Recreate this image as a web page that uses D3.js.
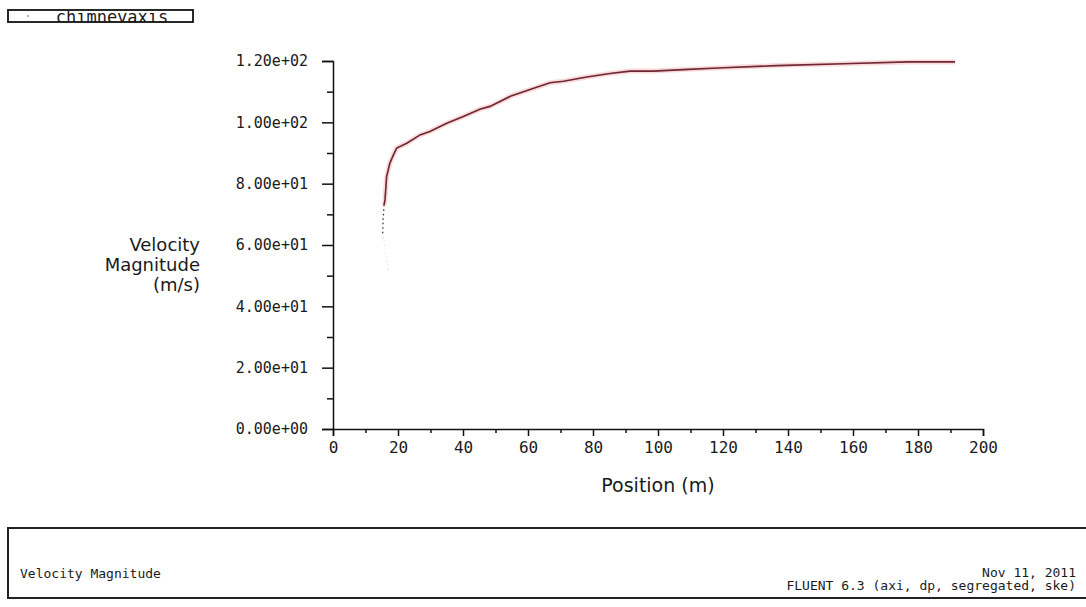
<!DOCTYPE html>
<html>
<head>
<meta charset="utf-8">
<script src="https://cdn.jsdelivr.net/npm/d3@7"></script>
<style>
  body { margin: 0; background: #fff; }
  svg text { fill: #1a1a1a; }
</style>
</head>
<body>
<div id="chart"></div>
<script>
// curve: position (m) vs velocity magnitude (m/s)
const positions = [15.7, 16.0, 16.5, 17.5, 18.6, 19.6, 22.7, 26.8, 29.8, 35.0, 40.1, 45.2, 48.3,
  55.0, 60.6, 66.8, 70.9, 78.1, 85.2, 91.4, 98.6, 107.8, 120.1, 136.5, 159.6, 177.0, 191.4];
const velocities = [73.0, 74.7, 82.3, 86.7, 89.4, 91.6, 93.2, 95.9, 97.0, 99.7, 101.9, 104.3, 105.2,
  108.7, 110.7, 112.9, 113.4, 114.8, 115.9, 116.7, 116.7, 117.2, 117.8, 118.5, 119.2, 119.7, 119.7];
// dotted tail at the bottom of the curve
const tailPositions = [15.3, 15.4, 15.7];
const tailVelocities = [63.8, 68.0, 73.0];
const fadedPositions = [17.0, 15.3];
const fadedVelocities = [52.0, 63.8];

const yTickValues = [0, 20, 40, 60, 80, 100, 120];
const yTickLabels = ["0.00e+00", "2.00e+01", "4.00e+01", "6.00e+01", "8.00e+01", "1.00e+02", "1.20e+02"];
const xTickValues = [0, 20, 40, 60, 80, 100, 120, 140, 160, 180, 200];

const width = 1086, height = 607;

const svg = d3.select("#chart").append("svg")
    .attr("width", width)
    .attr("height", height);

const x = d3.scaleLinear().domain([0, 200]).range([333, 983]);
const y = d3.scaleLinear().domain([0, 120]).range([429, 61]);

// legend box top-left (text is cut by the box like in the original)
svg.append("clipPath").attr("id", "legclip")
  .append("rect").attr("x", 8).attr("y", 11).attr("width", 185).attr("height", 11);
svg.append("text")
    .attr("x", 112).attr("y", 23)
    .attr("text-anchor", "middle")
    .attr("clip-path", "url(#legclip)")
    .attr("font-family", "DejaVu Sans Mono")
    .attr("font-size", "17px")
    .text("chimneyaxis");
svg.append("rect")
    .attr("x", 8).attr("y", 10)
    .attr("width", 185).attr("height", 12)
    .attr("fill", "none")
    .attr("stroke", "#111")
    .attr("stroke-width", 1.8);
svg.append("circle")
    .attr("cx", 28).attr("cy", 16).attr("r", 0.8)
    .attr("fill", "#555");

const labelFont = "DejaVu Sans Mono";

// y axis
const yAxis = svg.append("g")
    .attr("transform", `translate(${x(0)},0)`)
    .call(d3.axisLeft(y)
        .tickValues(yTickValues)
        .tickSize(11)
        .tickPadding(14)
        .tickFormat((d, i) => yTickLabels[i]));
yAxis.select(".domain").attr("stroke", "#111").attr("stroke-width", 1.5);
yAxis.selectAll(".tick line").attr("stroke", "#111").attr("stroke-width", 1.5);
yAxis.selectAll(".tick text")
    .attr("font-family", labelFont)
    .attr("font-size", "15px")
    .attr("fill", "#1a1a1a");

svg.append("g")
    .attr("transform", `translate(${x(0)},0)`)
    .call(d3.axisLeft(y).tickValues(d3.range(10, 120, 20)).tickSize(6).tickFormat(""))
    .call(g => g.select(".domain").remove())
    .selectAll(".tick line").attr("stroke", "#111").attr("stroke-width", 1.5);

// x axis
const xAxis = svg.append("g")
    .attr("transform", `translate(0,${y(0)})`)
    .call(d3.axisBottom(x)
        .tickValues(xTickValues)
        .tickSize(7)
        .tickPadding(6)
        .tickFormat(d3.format("d")));
xAxis.select(".domain").attr("stroke", "#111").attr("stroke-width", 1.5);
xAxis.selectAll(".tick line").attr("stroke", "#111").attr("stroke-width", 1.5);
xAxis.selectAll(".tick text")
    .attr("font-family", labelFont)
    .attr("font-size", "16px")
    .attr("fill", "#1a1a1a");

svg.append("g")
    .attr("transform", `translate(0,${y(0)})`)
    .call(d3.axisBottom(x).tickValues(d3.range(10, 200, 20)).tickSize(4).tickFormat(""))
    .call(g => g.select(".domain").remove())
    .selectAll(".tick line").attr("stroke", "#111").attr("stroke-width", 1.5);

// axis titles
const yTitle = svg.append("text")
    .attr("text-anchor", "end")
    .attr("font-family", "DejaVu Sans")
    .attr("font-size", "18px")
    .attr("fill", "#1a1a1a");
["Velocity", "Magnitude", "(m/s)"].forEach((t, i) => {
  yTitle.append("tspan").attr("x", 200).attr("y", 251 + i * 20).text(t);
});

svg.append("text")
    .attr("x", (x(0) + x(200)) / 2)
    .attr("y", 492)
    .attr("text-anchor", "middle")
    .attr("font-family", "DejaVu Sans")
    .attr("font-size", "19px")
    .text("Position (m)");

// curve
const line = d3.line().x(d => x(d[0])).y(d => y(d[1]));
const pts = positions.map((p, i) => [p, velocities[i]]);

svg.append("path")
    .attr("d", line(pts))
    .attr("fill", "none")
    .attr("stroke", "#f4c2c6")
    .attr("stroke-width", 5)
    .attr("opacity", 0.6);
svg.append("path")
    .attr("d", line(pts))
    .attr("fill", "none")
    .attr("stroke", "#6e2630")
    .attr("stroke-width", 1.6);

svg.append("path")
    .attr("d", line(tailPositions.map((p, i) => [p, tailVelocities[i]])))
    .attr("fill", "none")
    .attr("stroke", "#4a2a2e")
    .attr("stroke-width", 1.3)
    .attr("stroke-dasharray", "1.5,3");
svg.append("path")
    .attr("d", line(fadedPositions.map((p, i) => [p, fadedVelocities[i]])))
    .attr("fill", "none")
    .attr("stroke", "#d8d8d8")
    .attr("stroke-width", 1)
    .attr("stroke-dasharray", "1,3");

// footer box
svg.append("rect")
    .attr("x", 8).attr("y", 528)
    .attr("width", 1090).attr("height", 70)
    .attr("fill", "none")
    .attr("stroke", "#222")
    .attr("stroke-width", 2);
svg.append("text")
    .attr("x", 20).attr("y", 578)
    .attr("font-family", labelFont)
    .attr("font-size", "13px")
    .text("Velocity Magnitude");
svg.append("text")
    .attr("x", 1076).attr("y", 577)
    .attr("text-anchor", "end")
    .attr("font-family", labelFont)
    .attr("font-size", "13px")
    .text("Nov 11, 2011");
svg.append("text")
    .attr("x", 1076).attr("y", 590)
    .attr("text-anchor", "end")
    .attr("font-family", labelFont)
    .attr("font-size", "13px")
    .text("FLUENT 6.3 (axi, dp, segregated, ske)");
</script>
</body>
</html>
